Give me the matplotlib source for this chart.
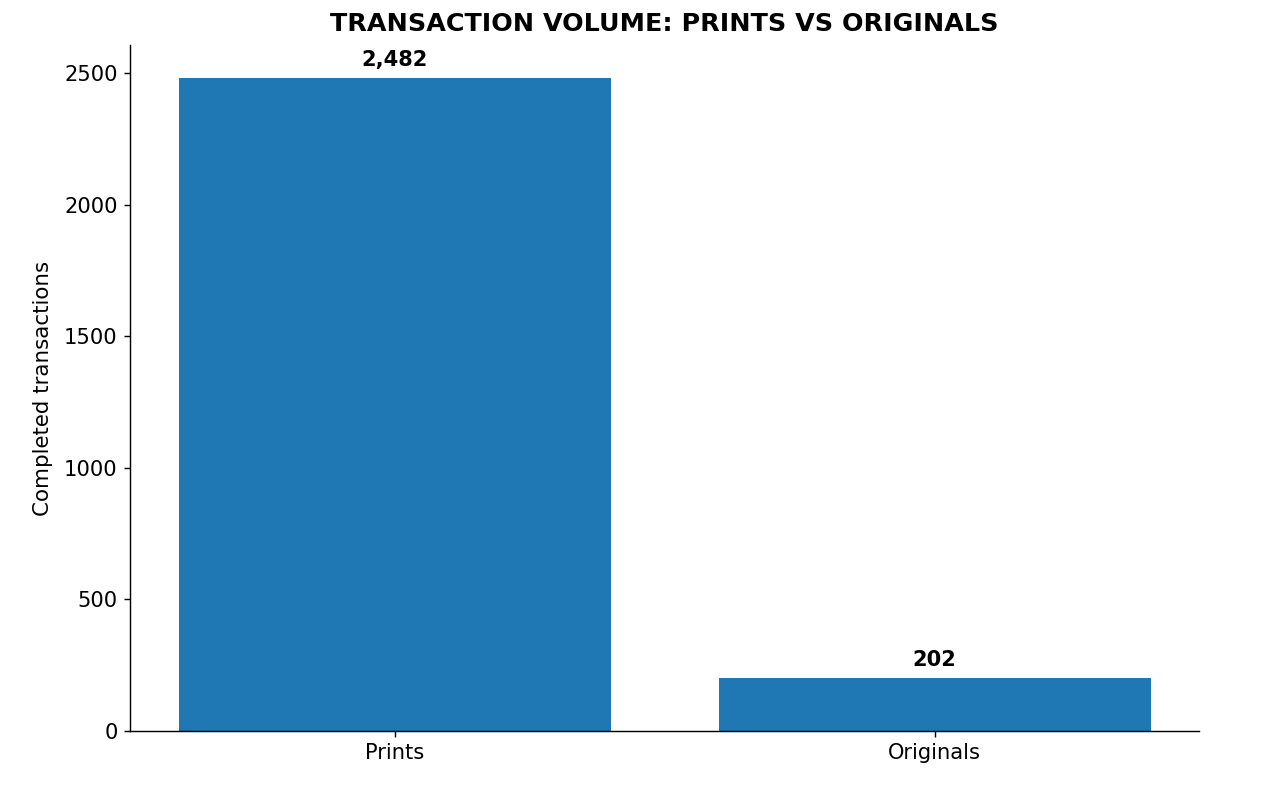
import matplotlib.pyplot as plt

# datos
categorias = ['Prints', 'Originals']
transacciones = [2482, 202]

fig = plt.figure(figsize=(12.87 / 1.28, 7.9 / 1.28), dpi=128)
ax = fig.add_axes([0.101, 0.0747, 0.831, 0.868])

barras = ax.bar(categorias, transacciones, color='#1f77b4', width=0.8)

# etiquetas encima de cada barra
for b, v in zip(barras, transacciones):
    ax.annotate(f'{v:,}', (b.get_x() + b.get_width() / 2, b.get_height()),
                xytext=(0, 4.5), textcoords='offset points',
                ha='center', va='bottom', fontsize=11.8, fontweight='bold')

ax.set_ylabel('Completed transactions', fontsize=12, labelpad=6)
ax.set_title('TRANSACTION VOLUME: PRINTS VS ORIGINALS', fontsize=14.3,
             fontweight='bold', pad=8)
ax.tick_params(labelsize=11.8)
ax.spines['top'].set_visible(False)
ax.spines['right'].set_visible(False)

fig.savefig('out.png', dpi=128)
